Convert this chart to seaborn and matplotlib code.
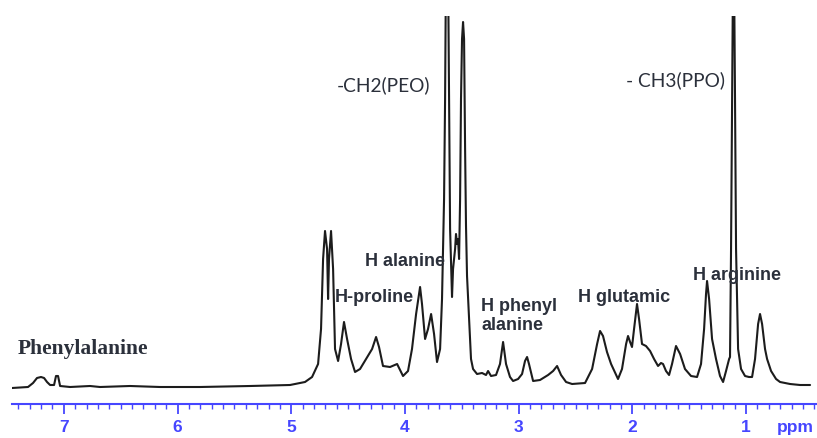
import numpy as np
import pandas as pd
import matplotlib
matplotlib.use("Agg")
import matplotlib.pyplot as plt
from matplotlib.ticker import MultipleLocator
import seaborn as sns

# 1H NMR trace: chemical shift (ppm) and intensity (a.u.)
ppm = [7.456, 7.315, 7.271, 7.236, 7.201, 7.174, 7.148, 7.121, 7.086, 7.069,
       7.051, 7.033, 6.945, 6.770, 6.682, 6.418, 6.154, 5.802, 5.362, 5.011,
       4.879, 4.817, 4.764, 4.738, 4.720, 4.703, 4.685, 4.676, 4.668, 4.650,
       4.632, 4.615, 4.588, 4.562, 4.536, 4.509, 4.474, 4.439, 4.395, 4.342,
       4.289, 4.254, 4.228, 4.193, 4.131, 4.069, 4.043, 4.017, 3.973, 3.938,
       3.902, 3.876, 3.867, 3.850, 3.823, 3.797, 3.770, 3.744, 3.718, 3.691,
       3.674, 3.656, 3.647, 3.639, 3.621, 3.612, 3.603, 3.586, 3.577, 3.559,
       3.551, 3.542, 3.533, 3.524, 3.515, 3.507, 3.498, 3.489, 3.480, 3.471,
       3.463, 3.454, 3.436, 3.419, 3.401, 3.366, 3.322, 3.287, 3.269, 3.243,
       3.199, 3.164, 3.137, 3.111, 3.076, 3.049, 3.005, 2.970, 2.944, 2.926,
       2.909, 2.873, 2.812, 2.741, 2.697, 2.662, 2.627, 2.583, 2.530, 2.416,
       2.354, 2.310, 2.284, 2.258, 2.223, 2.187, 2.126, 2.091, 2.055, 2.038,
       2.020, 2.003, 1.985, 1.959, 1.941, 1.915, 1.880, 1.844, 1.809, 1.774,
       1.748, 1.730, 1.704, 1.677, 1.651, 1.616, 1.580, 1.537, 1.484, 1.431,
       1.396, 1.369, 1.352, 1.343, 1.325, 1.299, 1.264, 1.229, 1.202, 1.176,
       1.149, 1.141, 1.132, 1.123, 1.114, 1.106, 1.097, 1.088, 1.070, 1.044,
       1.009, 0.974, 0.947, 0.921, 0.894, 0.877, 0.859, 0.833, 0.815, 0.780,
       0.736, 0.701, 0.613, 0.525, 0.437]
intensity = [-4, -3, 1, 6, 7, 6, 2, -1, -1, 8,
             8, -2, -3, -2, -3, -2, -3, -3, -2, -1,
             2, 7, 20, 55, 125, 153, 135, 85, 125, 153,
             115, 35, 23, 40, 62, 45, 25, 12, 15, 25,
             35, 47, 37, 18, 17, 20, 14, 8, 13, 35,
             70, 90, 97, 80, 45, 55, 70, 50, 22, 35,
             85, 185, 285, 420, 420, 285, 155, 87, 115, 135,
             150, 140, 145, 125, 185, 285, 345, 362, 345, 235,
             158, 108, 65, 25, 15, 10, 11, 9, 13, 8,
             9, 20, 42, 20, 7, 3, 5, 10, 23, 27,
             20, 3, 4, 9, 13, 18, 9, 2, 0, 1,
             15, 40, 53, 48, 32, 20, 5, 15, 40, 48,
             42, 37, 55, 80, 65, 40, 38, 33, 25, 18,
             21, 20, 13, 9, 20, 38, 30, 15, 8, 7,
             20, 55, 90, 103, 85, 45, 25, 8, 2, 13,
             25, 27, 135, 285, 420, 420, 285, 135, 35, 15,
             8, 7, 7, 25, 60, 70, 60, 35, 25, 13,
             5, 2, 0, -1, -1]

tick_values = [7, 6, 5, 4, 3, 2, 1]

df = pd.DataFrame({"ppm": ppm, "intensity": intensity})

sns.set_style("white")
plt.rcParams["font.family"] = ["Liberation Sans", "DejaVu Sans"]

fig = plt.figure(figsize=(8.17, 4.39), dpi=100)
ax = fig.add_axes([12 / 817, 34 / 439, 805 / 817, 388 / 439])

sns.lineplot(data=df, x="ppm", y="intensity", sort=False, estimator=None,
             color="#1c1c1c", linewidth=1.5, ax=ax)

ax.set_xlim(7.456, 0.376)
ax.set_ylim(-20, 368)

for s in ["left", "right", "top"]:
    ax.spines[s].set_visible(False)
blue = "#4646ff"
ax.spines["bottom"].set_color(blue)
ax.spines["bottom"].set_linewidth(1.5)

ax.set_xticks(tick_values)
ax.xaxis.set_minor_locator(MultipleLocator(0.1))
ax.tick_params(axis="x", which="both", bottom=True, direction="out", color=blue)
ax.tick_params(axis="x", which="major", length=7.5, width=1.3,
               labelcolor=blue, labelsize=12.5, pad=3.5)
ax.tick_params(axis="x", which="minor", length=3.5, width=1.0)
for lab in ax.get_xticklabels():
    lab.set_fontweight("bold")
ax.set_yticks([])
ax.set_xlabel("")
ax.set_ylabel("")

ax.text(0.973, -0.058, "ppm", transform=ax.transAxes, ha="center", va="center",
        color=blue, fontsize=12.5, fontweight="bold")

txt = "#2b303b"
ax.text(4.597, 300, "-CH2(PEO)", ha="left", va="center", color=txt,
        fontsize=13.8, family=["Lato", "DejaVu Sans"])
ax.text(2.055, 305, "- CH3(PPO)", ha="left", va="center", color=txt,
        fontsize=13.8, family=["Lato", "DejaVu Sans"])
ax.text(4.351, 123, "H alanine", ha="left", va="center", color=txt,
        fontsize=13, fontweight="bold")
ax.text(4.615, 87, "H-proline", ha="left", va="center", color=txt,
        fontsize=13, fontweight="bold")
ax.text(3.331, 69, "H phenyl\nalanine", ha="left", va="center", color=txt,
        fontsize=13, fontweight="bold", linespacing=1.1)
ax.text(2.478, 87, "H glutamic", ha="left", va="center", color=txt,
        fontsize=13, fontweight="bold")
ax.text(1.466, 109, "H arginine", ha="left", va="center", color=txt,
        fontsize=13, fontweight="bold")
ax.text(7.403, 36, "Phenylalanine", ha="left", va="center", color=txt,
        fontsize=15.5, fontweight="bold", family=["Liberation Serif", "DejaVu Serif"])

fig.savefig("out.png", dpi=100)
